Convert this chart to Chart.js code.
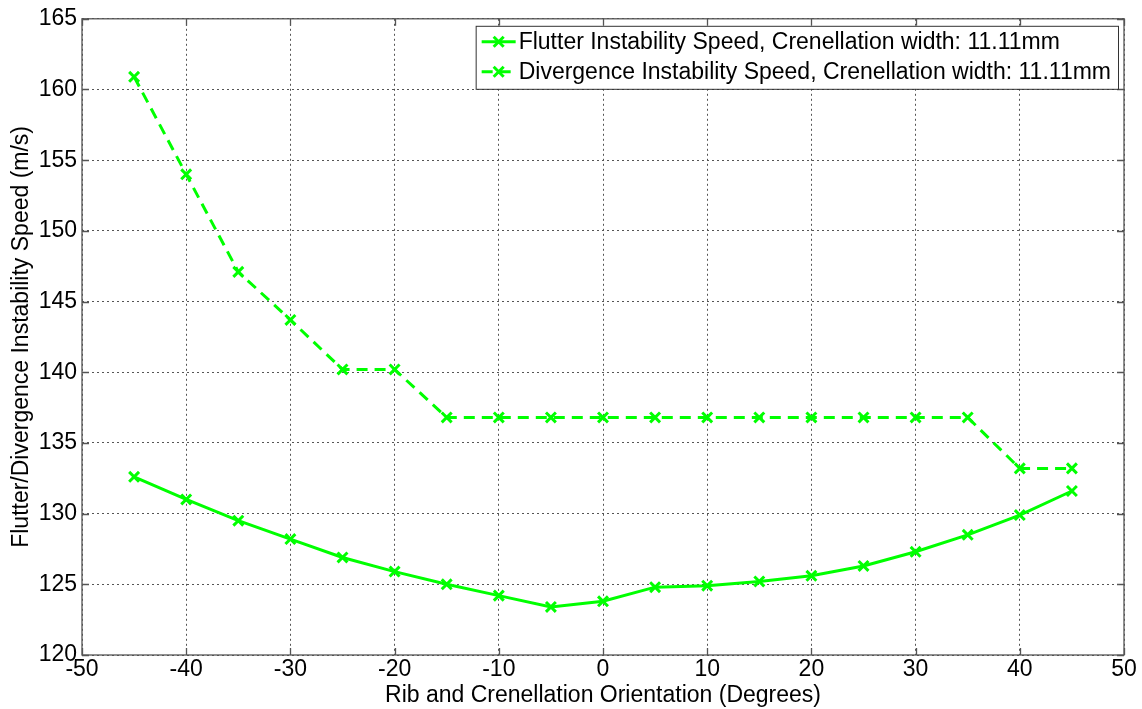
<!DOCTYPE html>
<html>
<head>
<meta charset="utf-8">
<script src="https://cdn.jsdelivr.net/npm/chart.js@4.4.1/dist/chart.umd.min.js"></script>
<style>
  html, body { margin: 0; padding: 0; background: #fff; }
  #wrap { width: 1142px; height: 709px; }
</style>
</head>
<body>
<div id="wrap"><canvas id="speedChart" width="1142" height="709"></canvas></div>
<script>
// Rib / crenellation orientation (degrees)
const orientation = [-45, -40, -35, -30, -25, -20, -15, -10, -5, 0, 5, 10, 15, 20, 25, 30, 35, 40, 45];

// Instability speeds (m/s), crenellation width 11.11mm
const flutterSpeed = [132.6, 131.0, 129.5, 128.2, 126.9, 125.9, 125.0, 124.2, 123.4, 123.8, 124.8, 124.9, 125.2, 125.6, 126.3, 127.3, 128.5, 129.9, 131.6];
const divergenceSpeed = [160.9, 154.0, 147.1, 143.7, 140.2, 140.2, 136.8, 136.8, 136.8, 136.8, 136.8, 136.8, 136.8, 136.8, 136.8, 136.8, 136.8, 133.2, 133.2];

const seriesLabels = [
    'Flutter Instability Speed, Crenellation width: 11.11mm',
    'Divergence Instability Speed, Crenellation width: 11.11mm'
];

const GREEN = '#00ff00';
const FONT = '"Liberation Sans", Arial, sans-serif';
const FONT_SIZE = 23;

function toPoints(ys) {
    return orientation.map((x, i) => ({ x: x, y: ys[i] }));
}

// MATLAB style box with inward tick marks on all sides
const boxPlugin = {
    id: 'matlabBox',
    afterDatasetsDraw(chart) {
        const { ctx, chartArea: a, scales } = chart;
        ctx.save();
        ctx.strokeStyle = '#555';
        ctx.lineWidth = 1.3;
        ctx.strokeRect(a.left, a.top, a.right - a.left, a.bottom - a.top);
        const len = 7;
        ctx.beginPath();
        scales.x.ticks.forEach(t => {
            const px = Math.round(scales.x.getPixelForValue(t.value)) + 0.5;
            ctx.moveTo(px, a.bottom); ctx.lineTo(px, a.bottom - len);
            ctx.moveTo(px, a.top); ctx.lineTo(px, a.top + len);
        });
        scales.y.ticks.forEach(t => {
            const py = Math.round(scales.y.getPixelForValue(t.value)) + 0.5;
            ctx.moveTo(a.left, py); ctx.lineTo(a.left + len, py);
            ctx.moveTo(a.right, py); ctx.lineTo(a.right - len, py);
        });
        ctx.stroke();
        ctx.restore();
    }
};

// Legend box in the upper right corner of the plot
const legendPlugin = {
    id: 'insideLegend',
    afterDraw(chart) {
        const { ctx, chartArea: a } = chart;
        ctx.save();
        ctx.font = FONT_SIZE + 'px ' + FONT;
        const textW = Math.max(...chart.data.datasets.map(d => ctx.measureText(d.label).width));
        const sample = 34;
        const boxW = 6 + sample + 3 + textW + 7;
        const rowH = 30;
        const boxH = rowH * chart.data.datasets.length + 3;
        const right = a.right - 6;
        const left = right - boxW;
        const top = a.top + 7;
        ctx.fillStyle = '#fff';
        ctx.fillRect(left, top, boxW, boxH);
        ctx.strokeStyle = '#333';
        ctx.lineWidth = 1;
        ctx.strokeRect(left + 0.5, top + 0.5, boxW, boxH);

        chart.data.datasets.forEach((d, i) => {
            const cy = top + 1 + rowH * i + rowH / 2;
            const x0 = left + 6;
            ctx.strokeStyle = d.borderColor;
            ctx.lineWidth = 3;
            ctx.setLineDash(d.borderDash || []);
            ctx.beginPath();
            ctx.moveTo(x0, cy); ctx.lineTo(x0 + sample, cy);
            ctx.stroke();
            ctx.setLineDash([]);
            const mx = x0 + sample / 2, r = 5;
            ctx.beginPath();
            ctx.moveTo(mx - r, cy - r); ctx.lineTo(mx + r, cy + r);
            ctx.moveTo(mx - r, cy + r); ctx.lineTo(mx + r, cy - r);
            ctx.stroke();
            ctx.fillStyle = '#000';
            ctx.textBaseline = 'middle';
            ctx.fillText(d.label, x0 + sample + 3, cy + 1);
        });
        ctx.restore();
    }
};

new Chart(document.getElementById('speedChart'), {
    type: 'line',
    data: {
        datasets: [{
            label: seriesLabels[0],
            data: toPoints(flutterSpeed),
            borderColor: GREEN,
            backgroundColor: GREEN,
            borderWidth: 3,
            pointStyle: 'crossRot',
            pointRadius: 7,
            pointBorderWidth: 3,
            tension: 0
        }, {
            label: seriesLabels[1],
            data: toPoints(divergenceSpeed),
            borderColor: GREEN,
            backgroundColor: GREEN,
            borderWidth: 3,
            borderDash: [11, 7],
            pointStyle: 'crossRot',
            pointRadius: 7,
            pointBorderWidth: 3,
            tension: 0
        }]
    },
    options: {
        responsive: false,
        animation: false,
        layout: { padding: { top: 18, right: 18, left: 0, bottom: 0 } },
        plugins: {
            legend: { display: false },
            tooltip: { enabled: false }
        },
        scales: {
            x: {
                type: 'linear',
                min: -50,
                max: 50,
                ticks: {
                    stepSize: 10,
                    color: '#000',
                    font: { family: FONT, size: FONT_SIZE },
                    padding: 1,
                    maxRotation: 0
                },
                grid: { color: '#555', lineWidth: 1, drawTicks: false },
                border: { display: false, dash: [2, 3] },
                title: {
                    display: true,
                    text: 'Rib and Crenellation Orientation (Degrees)',
                    color: '#000',
                    font: { family: FONT, size: FONT_SIZE },
                    padding: { top: 0, bottom: 0 }
                },
                afterFit(scale) { scale.height = 54; }
            },
            y: {
                min: 120,
                max: 165,
                ticks: {
                    stepSize: 5,
                    color: '#000',
                    font: { family: FONT, size: FONT_SIZE },
                    padding: 5
                },
                grid: { color: '#555', lineWidth: 1, drawTicks: false },
                border: { display: false, dash: [2, 3] },
                title: {
                    display: true,
                    text: 'Flutter/Divergence Instability Speed (m/s)',
                    color: '#000',
                    font: { family: FONT, size: FONT_SIZE },
                    padding: { top: 8, bottom: 0 }
                },
                afterFit(scale) { scale.width = 82; }
            }
        }
    },
    plugins: [boxPlugin, legendPlugin]
});
</script>
</body>
</html>
